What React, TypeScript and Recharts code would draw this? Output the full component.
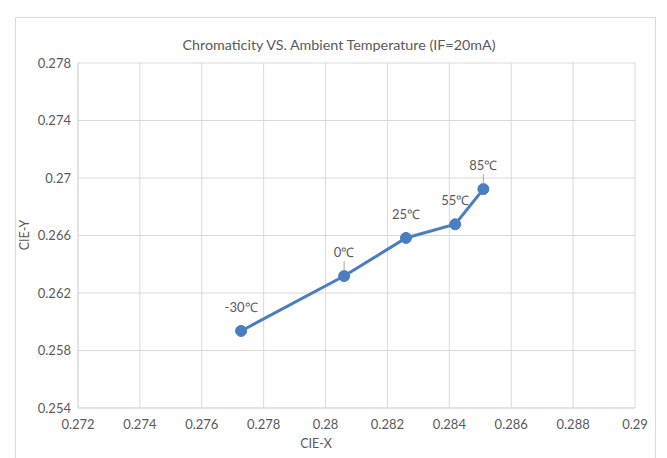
import React from 'react';
import { LineChart, Line, XAxis, YAxis, CartesianGrid, LabelList } from 'recharts';

const temperatures = ['-30℃', '0℃', '25℃', '55℃', '85℃'];
const cieX = [0.27727, 0.2806, 0.2826, 0.28419, 0.2851];
const cieY = [0.25936, 0.26318, 0.26583, 0.26678, 0.26923];
const xTicks = [0.272, 0.274, 0.276, 0.278, 0.28, 0.282, 0.284, 0.286, 0.288, 0.29];
const yTicks = [0.254, 0.258, 0.262, 0.266, 0.27, 0.274, 0.278];
const leaderIdx = [1, 4];

const data = temperatures.map((t, i) => ({ t, x: cieX[i], y: cieY[i] }));

const FONT = 'Lato, "Open Sans", sans-serif';
const TXT = '#595959';
const GRID = '#d9d9d9';
const BLUE = '#4A7EC0';

const fmt = (v: number) => String(+v.toFixed(3));

const PointLabel = (props: any) => {
  const { x, y, value, index } = props;
  return (
    <g>
      {leaderIdx.includes(index) && (
        <line x1={x} x2={x} y1={y - 15} y2={y - 5} stroke="#a6a6a6" strokeWidth={1} />
      )}
      <text
        x={x}
        y={y - 24}
        textAnchor="middle"
        dominantBaseline="central"
        fontSize={13}
        fontFamily={FONT}
        fill={TXT}
      >
        {value}
      </text>
    </g>
  );
};

export default function App() {
  return (
    <div style={{ position: 'absolute', left: 0, top: 0, width: 667, height: 458, background: '#fff', overflow: 'hidden', fontFamily: FONT }}>
      <div style={{ position: 'absolute', left: 15, top: 17, width: 641, height: 460, border: `1px solid ${GRID}`, boxSizing: 'border-box' }} />
      <div style={{ position: 'absolute', left: 4, top: 35, width: 670, textAlign: 'center', fontSize: 14.3, color: TXT, lineHeight: '20px' }}>
        Chromaticity VS. Ambient Temperature (IF=20mA)
      </div>
      <div style={{ position: 'absolute', left: 25, top: 235, width: 0, height: 0 }}>
        <div style={{ position: 'absolute', left: -30, top: -8, width: 60, textAlign: 'center', fontSize: 12.5, color: TXT, lineHeight: '16px', transform: 'rotate(-90deg)' }}>
          CIE-Y
        </div>
      </div>
      <div style={{ position: 'absolute', left: 286, top: 436, width: 60, textAlign: 'center', fontSize: 12.5, color: TXT, lineHeight: '16px' }}>
        CIE-X
      </div>
      <div style={{ position: 'absolute', left: 0, top: 0 }}>
        <LineChart width={667} height={458} data={data} margin={{ top: 63, right: 32, left: 0, bottom: 0 }}>
          <CartesianGrid stroke={GRID} strokeWidth={1} horizontalValues={yTicks} verticalValues={xTicks} />
          <XAxis
            type="number"
            dataKey="x"
            domain={[0.272, 0.29]}
            ticks={xTicks}
            tickFormatter={fmt}
            height={50}
            axisLine={{ stroke: GRID }}
            tickLine={false}
            tickSize={0}
            tickMargin={12}
            tick={{ fontSize: 13, fill: TXT, fontFamily: FONT }}
            interval={0}
          />
          <YAxis
            type="number"
            dataKey="y"
            domain={[0.254, 0.278]}
            ticks={yTicks}
            tickFormatter={fmt}
            width={78}
            axisLine={{ stroke: GRID }}
            tickLine={false}
            tickSize={0}
            tickMargin={7}
            tick={{ fontSize: 13, fill: TXT, fontFamily: FONT }}
            interval={0}
          />
          <Line
            type="linear"
            dataKey="y"
            stroke={BLUE}
            strokeWidth={3}
            dot={{ r: 5.5, fill: BLUE, stroke: BLUE, strokeWidth: 1 }}
            isAnimationActive={false}
          >
            <LabelList dataKey="t" content={<PointLabel />} />
          </Line>
        </LineChart>
      </div>
    </div>
  );
}
